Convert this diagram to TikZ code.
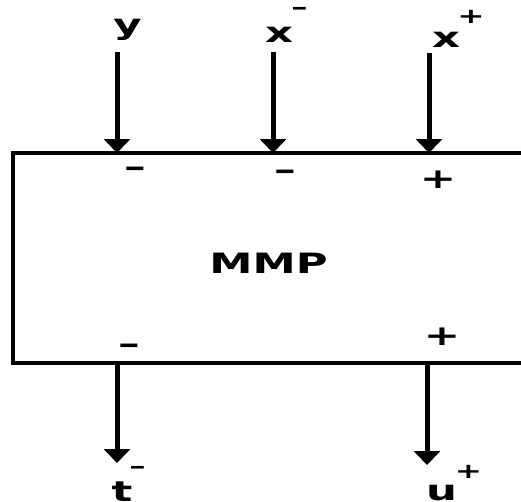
\documentclass[tikz,border=0pt]{standalone}
\usepackage{fontspec}
\newfontfamily\lblfont[FakeStretch=1.55]{DejaVu Sans}
\usetikzlibrary{arrows.meta}
\tikzset{
  lbl/.style={inner sep=0pt, font=\lblfont\bfseries\fontsize{28}{30}\selectfont},
  sgn/.style={inner sep=0pt, font=\lblfont\bfseries\fontsize{28}{30}\selectfont},
  sup/.style={inner sep=0pt, font=\lblfont\bfseries\fontsize{21}{24}\selectfont},
  boxline/.style={line width=3.3pt, line join=miter},
  arr/.style={line width=5pt, -{Triangle[width=26pt,length=14pt]}}
}
\begin{document}
\begin{tikzpicture}[x=1pt,y=-1pt]
\useasboundingbox (0,0) rectangle (521,501);
% box (right side runs off the picture)
\coordinate (tr) at (530,153);
\coordinate (tl) at (13,153);
\coordinate (bl) at (13,363);
\coordinate (br) at (530,363);
\begin{scope}
\clip (0,0) rectangle (521,501);
\draw[boxline] (tr) -- (tl) -- (bl) -- (br);
\end{scope}
% labels
\node[lbl] (ylbl) at (127.5,30) {y};
\node[lbl] (xm) at (279,34.5) {x};
\node[sup] (xmsup) at (299.5,11) {–};
\node[lbl] (xp) at (446,39.5) {x};
\node[sup] (xpsup) at (471,17) {+};
\node[lbl] (mmp) at (268.5,263) {MMP};
\node[lbl] (t) at (122,492) {t};
\node[sup] (tsup) at (137.5,470) {–};
\node[lbl] (u) at (441.5,493) {u};
\node[sup] (usup) at (468.5,472) {+};
% port signs
\node[sgn] (s1) at (135,172) {–};
\node[sgn] (s2) at (285,175) {–};
\node[sgn] (s3) at (438,180) {+};
\node[sgn] (s4) at (129,349) {–};
\node[sgn] (s5) at (442,337) {+};
% arrows
\coordinate (a1s) at (117,52);  \coordinate (a1e) at (117,153);
\coordinate (a2s) at (273,52);  \coordinate (a2e) at (273,153);
\coordinate (a3s) at (429,53);  \coordinate (a3e) at (429,153);
\coordinate (a4s) at (117,363); \coordinate (a4e) at (117,463);
\coordinate (a5s) at (427,363); \coordinate (a5e) at (427,465);
\draw[arr] (a1s) -- (a1e);
\draw[arr] (a2s) -- (a2e);
\draw[arr] (a3s) -- (a3e);
\draw[arr] (a4s) -- (a4e);
\draw[arr] (a5s) -- (a5e);
\end{tikzpicture}
\end{document}
